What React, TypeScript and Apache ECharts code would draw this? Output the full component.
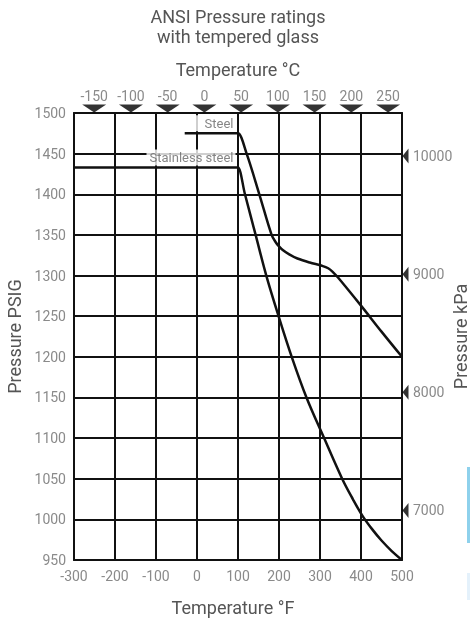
import React, { useEffect, useRef } from "react";
import * as echarts from "echarts";

// Axes
const F_MIN = -300;
const F_MAX = 500;
const F_STEP = 100;
const PSI_MIN = 950;
const PSI_MAX = 1500;
const PSI_STEP = 50;
const C_TICKS = [-150, -100, -50, 0, 50, 100, 150, 200, 250];
const C_MIN = -177.5;
const C_MAX = 269;
const KPA_TICKS = [7000, 8000, 9000, 10000];
const KPA_MIN = 6580;
const KPA_MAX = 10365;

// Series (temperature °F, pressure PSIG)
const steelF = [-30, 98, 100, 121, 152, 182, 192, 200, 210, 225, 245, 275, 305, 320, 332, 345, 400, 450, 500];
const steelPsi = [1475, 1475, 1475, 1450, 1400, 1350, 1341, 1336, 1331, 1326, 1321, 1316, 1312, 1309, 1304, 1297, 1263, 1231, 1200];
const stainF = [-300, 98, 100, 117, 143, 169, 199, 231, 267, 310, 354, 380, 404, 427, 450, 475, 500];
const stainPsi = [1433, 1433, 1433, 1400, 1350, 1300, 1250, 1200, 1150, 1100, 1050, 1025, 1004, 988, 974, 961, 950];

const LABELS = ["Steel", "Stainless steel"];
const LABEL_F = [100, 100];
const LABEL_PSI = [1475, 1433];

const INK = "#111";
const GRAY = "#8a8a8a";
const DARK = "#555";
const FONT = "Roboto";

export default function App() {
  const ref = useRef<HTMLDivElement>(null);
  useEffect(() => {
    if (!ref.current) return;
    const chart = echarts.init(ref.current, undefined, { renderer: "svg" });
    const line = { color: INK, width: 2 };
    const axisLine = { show: true, onZero: false, lineStyle: line };
    const plain = (v: number) => String(v);
    const nameStyle = { color: DARK, fontSize: 18, fontFamily: FONT };
    const labelPads = [
      [2, 2, 1, 9],
      [2, 2, 1, 3],
    ];
    chart.setOption({
      animation: false,
      textStyle: { fontFamily: FONT },
      title: {
        text: "ANSI Pressure ratings\nwith tempered glass",
        left: 238,
        top: 6,
        padding: 0,
        textAlign: "center",
        textStyle: { fontFamily: FONT, fontSize: 18, lineHeight: 20, fontWeight: "normal", color: DARK },
      },
      grid: { left: 74, right: 68, top: 113, bottom: 59, containLabel: false, outerBoundsMode: "none" },
      xAxis: [
        {
          type: "value",
          position: "bottom",
          min: F_MIN,
          max: F_MAX,
          interval: F_STEP,
          axisLine,
          axisTick: { show: false },
          splitLine: { show: true, lineStyle: line },
          axisLabel: { color: GRAY, fontSize: 14, margin: 9, fontFamily: FONT, formatter: plain },
          name: "Temperature °F",
          nameLocation: "middle",
          nameGap: 38,
          nameMoveOverlap: false,
          nameTextStyle: { ...nameStyle, padding: [0, 10, 0, 0] },
        },
        {
          type: "value",
          position: "top",
          min: C_MIN,
          max: C_MAX,
          axisLine,
          axisTick: { show: false },
          splitLine: { show: false },
          axisLabel: { customValues: C_TICKS, color: GRAY, fontSize: 14, margin: 10, fontFamily: FONT, formatter: plain },
          name: "Temperature °C",
          nameLocation: "middle",
          nameGap: 35,
          nameMoveOverlap: false,
          nameTextStyle: nameStyle,
        },
      ],
      yAxis: [
        {
          type: "value",
          position: "left",
          min: PSI_MIN,
          max: PSI_MAX,
          interval: PSI_STEP,
          axisLine,
          axisTick: { show: false },
          splitLine: { show: true, lineStyle: line },
          axisLabel: { color: GRAY, fontSize: 14, margin: 8, fontFamily: FONT, formatter: plain },
          name: "Pressure PSIG",
          nameLocation: "middle",
          nameGap: 51,
          nameMoveOverlap: false,
          nameTextStyle: nameStyle,
        },
        {
          type: "value",
          position: "right",
          min: KPA_MIN,
          max: KPA_MAX,
          axisLine,
          axisTick: { show: false },
          splitLine: { show: false },
          axisLabel: { customValues: KPA_TICKS, color: GRAY, fontSize: 14, margin: 11, fontFamily: FONT, formatter: plain },
          name: "Pressure kPa",
          nameLocation: "middle",
          nameGap: 49,
          nameMoveOverlap: false,
          nameTextStyle: nameStyle,
        },
      ],
      series: [
        {
          name: "Steel",
          type: "line",
          xAxisIndex: 0,
          yAxisIndex: 0,
          data: steelF.map((f, i) => [f, steelPsi[i]]),
          symbol: "none",
          smooth: 0.35,
          lineStyle: { color: INK, width: 2.5 },
          silent: true,
        },
        {
          name: "Stainless steel",
          type: "line",
          xAxisIndex: 0,
          yAxisIndex: 0,
          data: stainF.map((f, i) => [f, stainPsi[i]]),
          symbol: "none",
          smooth: 0.35,
          lineStyle: { color: INK, width: 2.5 },
          silent: true,
        },
        {
          name: "labels",
          type: "scatter",
          xAxisIndex: 0,
          yAxisIndex: 0,
          data: LABELS.map((n, i) => ({
            name: n,
            value: [LABEL_F[i], LABEL_PSI[i]],
            label: { padding: labelPads[i] },
          })),
          symbolSize: 1,
          itemStyle: { color: "rgba(0,0,0,0)" },
          z: 5,
          silent: true,
          label: {
            show: true,
            position: "left",
            distance: 2,
            offset: [0, -10],
            formatter: (p: any) => p.name,
            color: "#666",
            fontSize: 13,
            fontFamily: FONT,
            backgroundColor: "#fff",
          },
        },
        {
          name: "C ticks",
          type: "scatter",
          xAxisIndex: 1,
          yAxisIndex: 0,
          data: C_TICKS.map((c) => [c, PSI_MAX]),
          symbol: "triangle",
          symbolRotate: 180,
          symbolSize: [24, 8],
          symbolOffset: [0, -4.5],
          itemStyle: { color: "#000" },
          clip: false,
          silent: true,
        },
        {
          name: "kPa ticks",
          type: "scatter",
          xAxisIndex: 0,
          yAxisIndex: 1,
          data: KPA_TICKS.map((k) => [F_MAX, k]),
          symbol: "triangle",
          symbolRotate: 90,
          symbolSize: [15, 6],
          symbolOffset: [3.5, 0],
          itemStyle: { color: "#000" },
          clip: false,
          silent: true,
        },
      ],
      graphic: [
        { type: "rect", shape: { x: 467, y: 467, width: 3, height: 76 }, style: { fill: "#8ed1ec" }, silent: true },
        { type: "rect", shape: { x: 467, y: 573, width: 3, height: 27 }, style: { fill: "#e4f1fb" }, silent: true },
      ],
    });
    return () => chart.dispose();
  }, []);
  return <div ref={ref} style={{ position: "fixed", left: 0, top: 0, width: 470, height: 619 }} />;
}
